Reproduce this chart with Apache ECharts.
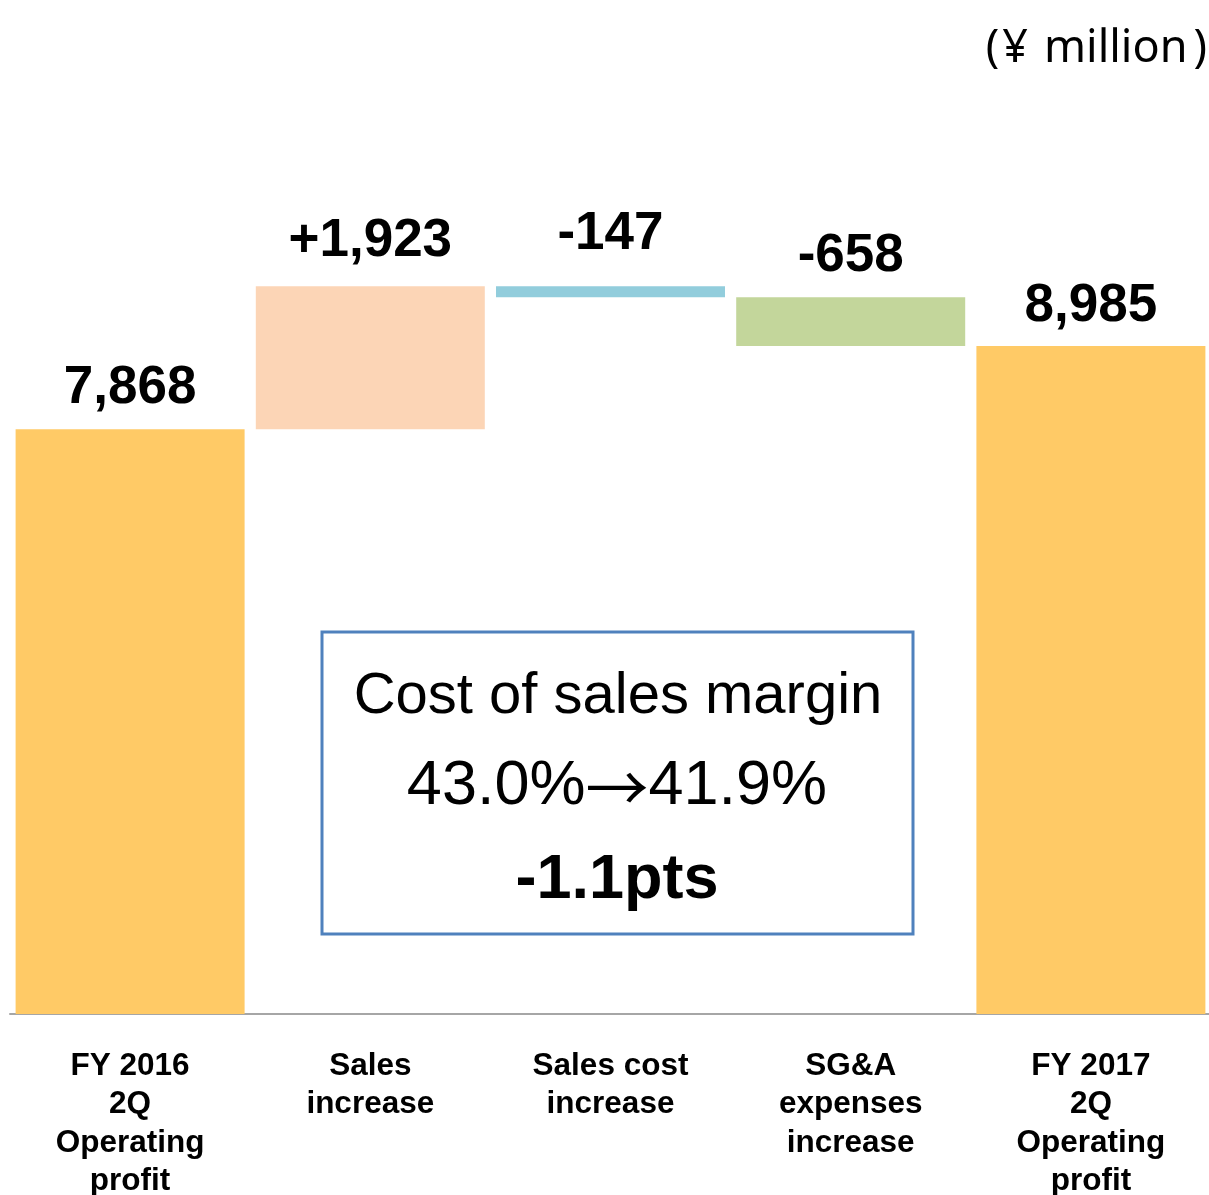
<!DOCTYPE html>
<html>
<head>
<meta charset="utf-8">
<script src="https://cdn.jsdelivr.net/npm/echarts@6/dist/echarts.min.js"></script>
<style>
  html, body { margin: 0; padding: 0; background: #fff; overflow: hidden; }
  #chart { width: 1209px; height: 1195px; }
</style>
</head>
<body>
<div id="chart"></div>
<script>
var categories = ['FY 2016\n2Q\nOperating\nprofit', 'Sales\nincrease', 'Sales cost\nincrease', 'SG&A\nexpenses\nincrease', 'FY 2017\n2Q\nOperating\nprofit'];
var baseValues = [0, 7868, 9644, 8986, 0];
var stepValues = [7868, 1923, 147, 658, 8985];
var valueLabels = ['7,868', '+1,923', '-147', '-658', '8,985'];
var barColors = ['#FFCA66', '#FCD5B6', '#92CDDC', '#C3D69B', '#FFCA66'];
var labelGaps = [14, 18, 25, 14, 13];

var myChart = echarts.init(document.getElementById('chart'));

var font = '"Liberation Sans", Arial, sans-serif';

var option = {
    animation: false,
    grid: { left: 10, right: -2, top: 122, bottom: 181, outerBoundsMode: 'none' },
    xAxis: {
        type: 'category',
        data: categories,
        axisTick: { show: false },
        axisLine: { lineStyle: { color: '#A6A6A6', width: 2 } },
        axisLabel: {
            interval: 0,
            margin: 33,
            color: '#000',
            fontFamily: font,
            fontWeight: 'bold',
            fontSize: 31.5,
            lineHeight: 38.5
        }
    },
    yAxis: {
        type: 'value',
        min: 0,
        max: 12000,
        show: false,
        splitLine: { show: false }
    },
    series: [
        {
            type: 'bar',
            stack: 'wf',
            barWidth: 229,
            itemStyle: { color: 'transparent' },
            silent: true,
            data: baseValues
        },
        {
            type: 'bar',
            stack: 'wf',
            barWidth: 229,
            data: stepValues.map(function (v, i) {
                return {
                    value: v,
                    itemStyle: { color: barColors[i] },
                    label: {
                        show: true,
                        position: 'top',
                        distance: labelGaps[i],
                        formatter: valueLabels[i],
                        color: '#000',
                        fontFamily: font,
                        fontWeight: 'bold',
                        fontSize: 53
                    }
                };
            })
        }
    ],
    graphic: [
        {
            type: 'text',
            right: 2,
            top: 27,
            style: {
                text: '{l|(}{y|¥}{m|million}{r|)}',
                fill: '#000',
                rich: {
                    l: { font: '45px "Noto Sans", sans-serif', padding: [0, 3, 0, 0] },
                    y: { font: '45px "Noto Sans", sans-serif', padding: [0, 16, 0, 0] },
                    m: { font: '45px "Noto Sans", sans-serif', padding: [0, 6, 0, 0] },
                    r: { font: '45px "Noto Sans", sans-serif' }
                }
            }
        },
        {
            type: 'rect',
            shape: { x: 322, y: 632, width: 591, height: 302 },
            style: { fill: '#fff', stroke: '#4F81BD', lineWidth: 3 }
        },
        {
            type: 'text',
            x: 618, y: 697,
            style: {
                text: 'Cost of sales margin',
                fill: '#000',
                align: 'center',
                verticalAlign: 'middle',
                font: '58px ' + font
            }
        },
        {
            type: 'text',
            x: 617, y: 787,
            style: {
                text: '{n|43.0%}{a|→}{n|41.9%}',
                fill: '#000',
                align: 'center',
                verticalAlign: 'middle',
                rich: {
                    n: { font: '63px ' + font },
                    a: { font: '63px "Noto Sans CJK JP", sans-serif' }
                }
            }
        },
        {
            type: 'text',
            x: 617, y: 881,
            style: {
                text: '-1.1pts',
                fill: '#000',
                align: 'center',
                verticalAlign: 'middle',
                font: 'bold 63px ' + font
            }
        }
    ]
};

myChart.setOption(option);
</script>
</body>
</html>
